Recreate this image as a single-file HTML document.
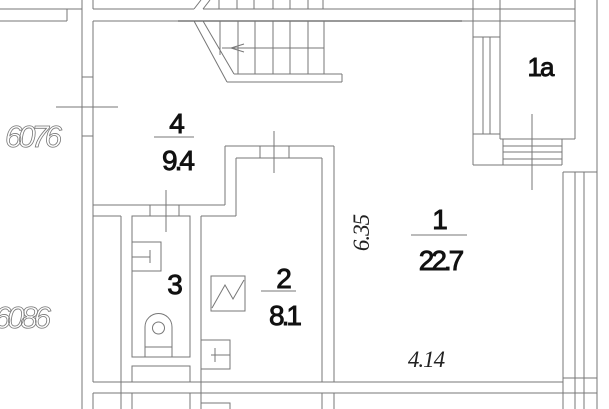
<!DOCTYPE html>
<html><head><meta charset="utf-8"><style>
html,body{margin:0;padding:0;background:#fff;}
svg{display:block}
.s{font-family:"Liberation Sans",sans-serif;fill:#111;stroke:#111;stroke-width:0.9;}
.i{font-family:"Liberation Serif",serif;font-style:italic;fill:#222;}
.o{font-family:"Liberation Sans",sans-serif;font-style:italic;fill:#fff;stroke:#777;stroke-width:0.8;}
</style></head><body>
<svg width="609" height="409" viewBox="0 0 609 409" xmlns="http://www.w3.org/2000/svg">
<g stroke="#777" stroke-width="1" fill="none">
<path d="M82 0V409M93 0V9M93 21V382M93 393V409M0 9H82M0 21H67M67 9V21M82 77H93M82 136H93M56 107H118"/>
<path d="M93 9H194M203 9H473M93 21H178M462 21H473"/>
<line x1="178" y1="21" x2="462" y2="21" stroke="#333"/>
<path d="M194 9L201 0M203 9L210 0M219 0V9M237 0V9M254 0V9M273 0V9M290 0V9M308 0V9M323 0V9"/>
<path d="M194 21L227 82M203 21L234 74M234 74H342M227 82H342M342 74V82M220 21V55M238 21V74M255 21V74M273 21V74M290 21V74M308 21V74M324 21V74M222 48H324"/>
<polyline points="244,44 231,48 244,52"/>
<path d="M473 0V165M500 0V139M575 0V139M597 0V409M473 9H575M473 21H575M473 37H500M473 134H500M483 37V134M490 37V134M500 139H575M473 165H562M503 139V165M562 139V165M503 146H562M503 152H562M503 159H562M532 114V190"/>
<path d="M563 172H597M563 172V409M575 172V409M584 172V409M563 378H597M563 393H597"/>
<path d="M225 146H334M236 158H322M225 146V205M236 158V216M334 146V382M322 158V382M334 393V409M322 393V409M260 146V158M289 146V158M274 131V173"/>
<path d="M93 205H225M93 216H121M132 216H190M201 216H236M150 205V216M179 205V216M166 190V232M121 216V409M201 216V409"/>
<rect x="132" y="216" width="58" height="141"/>
<rect x="132" y="242" width="29" height="29"/>
<path d="M132 257H150M150 250V263"/>
<path d="M145,357 V327 A13.5,13.5 0 0 1 172,327 V357M145 347H172"/>
<circle cx="158.5" cy="328" r="6"/>
<rect x="132" y="366" width="58" height="16"/>
<path d="M132 393V409M190 393V409"/>
<rect x="211" y="276" width="34" height="35"/>
<polyline points="212,308 225,285 233,299 244,280"/>
<rect x="201" y="340" width="29" height="29"/>
<path d="M211 355H230M215 348V362"/>
<rect x="201" y="403" width="29" height="10"/>
<path d="M93 382H563M93 393H563M154 137H194M261 291H296M411 235H467"/>
</g>
<text class="s" x="177" y="133" font-size="28" text-anchor="middle">4</text>
<text class="s" x="177" y="170" font-size="28" text-anchor="middle" letter-spacing="-3">9.4</text>
<text class="s" x="540" y="76" font-size="26" text-anchor="middle" letter-spacing="-2">1a</text>
<text class="s" x="175" y="294" font-size="28" text-anchor="middle">3</text>
<text class="s" x="284" y="288" font-size="28" text-anchor="middle">2</text>
<text class="s" x="284" y="325" font-size="28" text-anchor="middle" letter-spacing="-3">8.1</text>
<text class="s" x="440" y="229" font-size="28" text-anchor="middle">1</text>
<text class="s" x="440" y="270" font-size="28" text-anchor="middle" letter-spacing="-3">22.7</text>
<text class="i" x="426" y="367" font-size="23" text-anchor="middle" letter-spacing="-1">4.14</text>
<text class="i" font-size="23" transform="translate(369,233) rotate(-90)" text-anchor="middle" letter-spacing="-1">6.35</text>
<text class="o" x="5" y="147" font-size="31" letter-spacing="-4">6076</text>
<text class="o" x="-6" y="328" font-size="31" letter-spacing="-4">6086</text>
</svg>
</body></html>
